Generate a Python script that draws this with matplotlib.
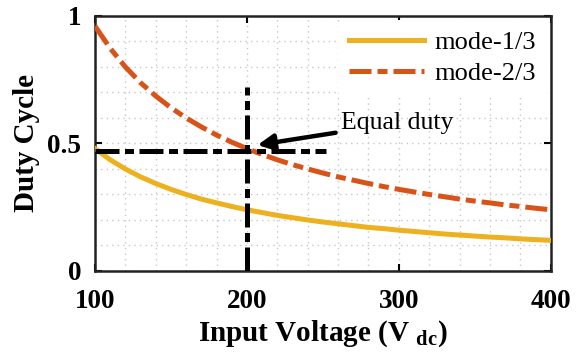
import matplotlib
matplotlib.use("Agg")
import matplotlib.pyplot as plt
from matplotlib.ticker import MultipleLocator

plt.rcParams['font.family'] = ['Liberation Serif', 'DejaVu Serif']
plt.rcParams['mathtext.fontset'] = 'custom'
plt.rcParams['mathtext.rm'] = 'Liberation Serif:bold'
plt.rcParams['mathtext.bf'] = 'Liberation Serif:bold'

# input voltage (V) and duty values
vin = [100, 110, 120, 130, 140, 150, 160, 170, 180, 190, 200,
       210, 220, 230, 240, 250, 260, 270, 280, 290, 300,
       310, 320, 330, 340, 350, 360, 370, 380, 390, 400]
duty_mode1 = [0.48, 0.436, 0.40, 0.369, 0.343, 0.32, 0.30, 0.282, 0.267, 0.253, 0.24,
              0.229, 0.218, 0.209, 0.20, 0.192, 0.185, 0.178, 0.171, 0.166, 0.16,
              0.155, 0.15, 0.145, 0.141, 0.137, 0.133, 0.130, 0.126, 0.123, 0.12]
duty_mode2 = [0.96, 0.873, 0.80, 0.738, 0.686, 0.64, 0.60, 0.565, 0.533, 0.505, 0.48,
              0.457, 0.436, 0.417, 0.40, 0.384, 0.369, 0.356, 0.343, 0.331, 0.32,
              0.31, 0.30, 0.291, 0.282, 0.274, 0.267, 0.259, 0.253, 0.246, 0.24]

# guide lines marking the equal-duty point
vline_x = [200, 200]
vline_y = [0, 0.72]
hline_x = [100, 252]
hline_y = [0.47, 0.47]

fig = plt.figure(figsize=(5.81, 3.54), dpi=100)
ax = fig.add_axes([0.1635, 0.2345, 0.7845, 0.7205])

lw = 3.6
ax.plot(vin, duty_mode1, color='#EDB120', lw=lw, label='mode-1/3', zorder=3)
ax.plot(vin, duty_mode2, color='#D95319', lw=lw, dashes=(4.4, 1.2, 2.0, 1.2),
        label='mode-2/3', zorder=3)
ax.plot(vline_x, vline_y, color='black', lw=lw, dashes=(4.8, 1.1, 1.8, 1.1), zorder=4)
ax.plot(hline_x, hline_y, color='black', lw=lw, dashes=(4.8, 1.1, 1.8, 1.1), zorder=4)

ax.annotate('Equal duty', xy=(207, 0.494), xytext=(262, 0.58),
            fontsize=18.5, va='center', ha='left',
            arrowprops=dict(arrowstyle='-|>', color='black', lw=3.2,
                            mutation_scale=24, shrinkA=2, shrinkB=0))

ax.set_xlim(100, 400)
ax.set_ylim(0, 1)
ax.set_xticks([100, 200, 300, 400])
ax.set_yticks([0, 0.5, 1])
ax.set_yticklabels(['0', '0.5', '1'])
ax.xaxis.set_minor_locator(MultipleLocator(20))
ax.yaxis.set_minor_locator(MultipleLocator(0.1))
ax.grid(True, which='both', color='#c8c8c8', ls=(0, (1, 3)), lw=1)
ax.tick_params(which='major', direction='in', top=True, right=True, length=5, width=1.5,
               labelsize=19.5)
ax.tick_params(axis='x', pad=13)
ax.tick_params(axis='y', pad=10)
ax.tick_params(which='minor', length=0)
for lab in ax.get_xticklabels() + ax.get_yticklabels():
    lab.set_fontweight('bold')
for sp in ax.spines.values():
    sp.set_linewidth(1.8)
    sp.set_color('#222222')

ax.set_xlabel(r'Input Voltage (V $_{\mathbf{dc}}$)', fontsize=21, fontweight='bold', labelpad=3)
ax.set_ylabel('Duty Cycle', fontsize=21, fontweight='bold', labelpad=5)

leg = ax.legend(loc='upper right', fontsize=19, frameon=True, handlelength=2.85,
                borderaxespad=0.15, handletextpad=0.4, labelspacing=0.3)
leg.get_frame().set_edgecolor('none')
leg.get_frame().set_facecolor('white')
leg.get_frame().set_alpha(1)

fig.savefig('out.png', dpi=100)
